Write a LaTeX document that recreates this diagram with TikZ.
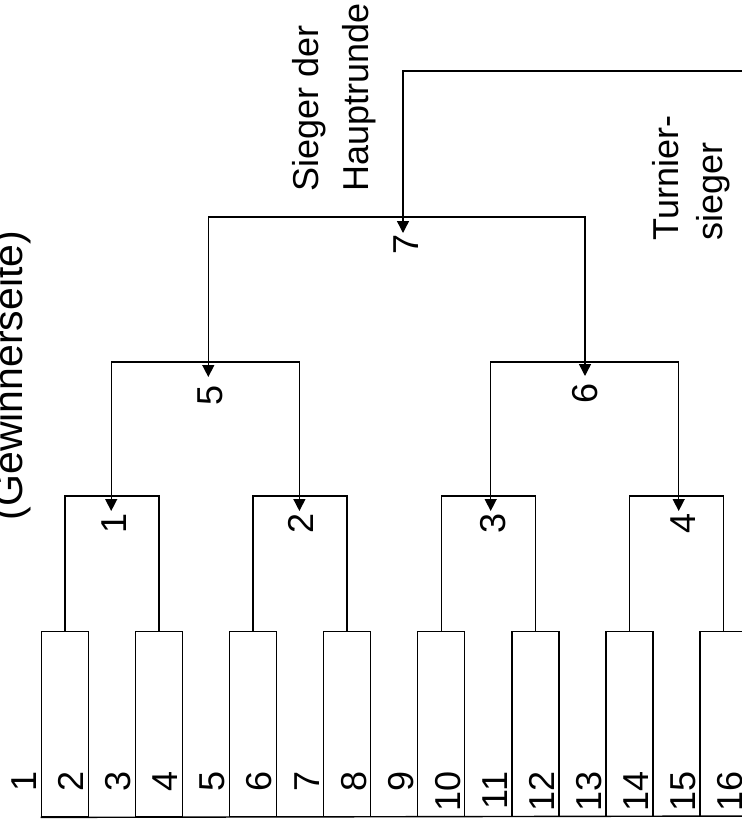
\documentclass[tikz,border=0pt]{standalone}
\usepackage{fontspec}
\setmainfont{Liberation Sans}
\usetikzlibrary{arrows.meta}
\begin{document}
\begin{tikzpicture}[x=1pt,y=-1pt, line width=1.4pt,
  tallbox/.style={draw, minimum width=47pt, minimum height=185pt, inner sep=0pt, anchor=north west},
  lbl/.style={rotate=90, inner sep=0pt, font=\fontsize{36}{43}\selectfont},
  arr/.style={-{Triangle[length=12pt,width=12pt]}},
]
\useasboundingbox (0,0) rectangle (742,828);
\clip (0,0) rectangle (742,828);

% first-round boxes
\foreach \i in {1,...,8}
  \node[tallbox] (b\i) at ({40.7+94.09*(\i-1)},631) {};
\coordinate (re) at (760,816);
\draw (b1.south west) -- (re);

% round 1 brackets
\coordinate (r1) at (111.2,496);
\coordinate (r2) at (299.4,496);
\coordinate (r3) at (490.7,496);
\coordinate (r4) at (678.7,496);
\draw (b1.north) |- (r1) -| (b2.north);
\draw (b3.north) |- (r2) -| (b4.north);
\draw (b5.north) |- (r3) -| (b6.north);
\draw (b7.north) |- (r4) -| (b8.north);

% arrow tips
\coordinate (t1) at (111.2,511);
\coordinate (t2) at (299.4,511);
\coordinate (t3) at (490.7,511);
\coordinate (t4) at (678.7,511);
\coordinate (t5) at (208.3,377);
\coordinate (t6) at (585,376);
\coordinate (t7) at (403,233);

% round 2 brackets
\coordinate (q5) at (208.3,362);
\coordinate (q6) at (585,362);
\draw[arr] (q5) -| (t1);
\draw[arr] (q5) -| (t2);
\draw[arr] (q6) -| (t3);
\draw[arr] (q6) -| (t4);

% round 3 bracket
\coordinate (q7) at (403,217);
\draw[arr] (q7) -| (t5);
\draw[arr] (q7) -| (t6);

% final
\coordinate (top) at (760,71);
\draw[arr] (top) -| (t7);

% match labels
\node[lbl, anchor=base east] (m1) at (126,513) {1};
\node[lbl, anchor=base east] (m2) at (313,513) {2};
\node[lbl, anchor=base east] (m3) at (505,513) {3};
\node[lbl, anchor=base east] (m4) at (695,513) {4};
\node[lbl, anchor=base east] (m5) at (222,385) {5};
\node[lbl, anchor=base east] (m6) at (597,383) {6};
\node[lbl, anchor=base east] (m7) at (418,233.5) {7};

% player numbers
\foreach \n/\bx in {1/36.7,2/83.7,3/130.8,4/177.8,5/224.9,6/271.9,7/319.0,8/366.0,
                    9/413.1,10/460.1,11/507.2,12/554.2,13/601.2,14/648.2,15/695.3,16/742.3}
  \node[lbl, anchor=base east] (n\n) at (\bx,771) {\n};

% texts
\node[lbl, anchor=base west] (sg1) at (318,192) {Sieger der};
\node[lbl, anchor=base west] (sg2) at (368,192) {Hauptrunde};
\node[lbl, anchor=base west] (ts1) at (678,241) {Turnier-};
\node[lbl, anchor=base west] (ts2) at (722,241) {sieger};
\node[lbl, anchor=base west, font=\fontsize{41}{49}\selectfont] (gw) at (23,521) {(Gewinnerseite)};
\end{tikzpicture}
\end{document}
